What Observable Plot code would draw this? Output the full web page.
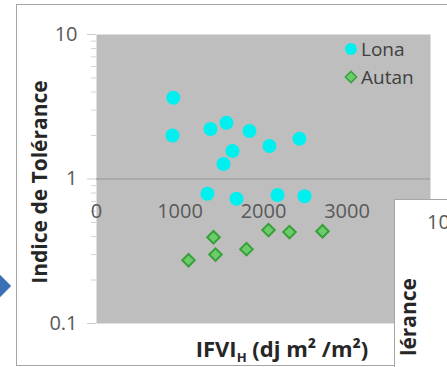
<!DOCTYPE html>
<html><head><meta charset="utf-8">
<script src="https://cdn.jsdelivr.net/npm/d3@7"></script>
<script src="https://cdn.jsdelivr.net/npm/@observablehq/plot@0.6"></script>
<style>
body{margin:0;background:#fff;width:447px;height:367px;overflow:hidden;position:relative;font-family:"Open Sans",sans-serif;}
#frame{position:absolute;left:16px;top:4px;width:470px;height:360px;border:1px solid #a6a6a6;}
#chart{position:absolute;left:0;top:0;}
#legend{position:absolute;left:344px;top:35px;font-size:19px;color:#404040;line-height:28px;}
#legend div{display:flex;align-items:center;}
#legend svg{margin-right:3px;}
#inset{position:absolute;left:394px;top:199px;width:80px;height:200px;background:#fff;border:1px solid #a6a6a6;}
#inset .t10{position:absolute;left:32px;top:8px;font-size:20px;color:#595959;}
#inset .yl{position:absolute;left:13px;top:117px;transform:translate(-50%,-50%) rotate(-90deg);font-size:21px;font-weight:bold;color:#262626;white-space:nowrap;}
#arrow{position:absolute;left:-13px;top:276px;width:20px;height:20px;background:#3b6fb6;transform:rotate(45deg);}
</style>
</head><body>
<div id="frame"></div>
<div id="chart"></div>
<div id="legend">
  <div><svg width="14" height="14"><circle cx="7" cy="7" r="6" fill="#00f0f0"/></svg>Lona</div>
  <div><svg width="14" height="14"><rect x="3" y="3" width="8" height="8" transform="rotate(45 7 7)" fill="#6ccc6c" stroke="#3aa03a" stroke-width="1.5"/></svg>Autan</div>
</div>
<div id="inset"><span class="t10">10</span><span class="yl">lérance</span></div>
<div id="arrow"></div>
<script>
const lonaX = [920, 910, 1365, 1557, 1832, 1629, 1521, 2072, 2431, 1329, 1677, 2168, 2491];
const lonaY = [3.65, 2.0, 2.22, 2.45, 2.15, 1.56, 1.27, 1.69, 1.90, 0.79, 0.73, 0.775, 0.76];
const autanX = [1102, 1401, 1425, 1796, 2060, 2311, 2707];
const autanY = [0.274, 0.395, 0.30, 0.327, 0.443, 0.429, 0.435];
const xTicks = [0, 1000, 2000, 3000];
const yTicks = [0.1, 1, 10];
const yTickLabels = ["0.1", "1", "10"];
const yMinor = [0.2,0.3,0.4,0.5,0.6,0.7,0.8,0.9,2,3,4,5,6,7,8,9];
const yLabel = "Indice de Tolérance";

const lona = lonaX.map((x, i) => ({x, y: lonaY[i]}));
const autan = autanX.map((x, i) => ({x, y: autanY[i]}));

const chart = Plot.plot({
  width: 447, height: 367,
  marginLeft: 96, marginRight: 17, marginTop: 34, marginBottom: 44,
  x: {domain: [0, 4000], axis: null},
  y: {type: "log", domain: [0.1, 10], axis: null},
  style: {background: "transparent", fontFamily: "'Open Sans', sans-serif", overflow: "visible"},
  marks: [
    Plot.frame({fill: "#bebebe", stroke: null}),
    Plot.axisY({ticks: yMinor, tickSize: 5, tickFormat: () => "", stroke: "#d4d4d4", label: null}),
    Plot.axisY({ticks: yTicks, tickSize: 9, tickFormat: () => "", stroke: "#cccccc", label: null}),
    Plot.text(yTicks, {y: d => d, frameAnchor: "left", dx: -19, textAnchor: "end", text: (d, i) => yTickLabels[i], fontSize: 20, fill: "#595959"}),
    Plot.ruleY([1], {stroke: "#a3a3a3", strokeWidth: 1.5}),
    Plot.text(xTicks, {x: d => d, y: () => 1, dy: 33, text: d => String(d), fontSize: 20, fill: "#595959"}),
    Plot.dot(lona, {x: "x", y: "y", r: 7, fill: "#00f0f0", symbol: "circle"}),
    Plot.dot(autan, {x: "x", y: "y", symbol: "square", rotate: 45, r: 5, fill: "#6ccc6c", stroke: "#38a038", strokeWidth: 2}),
    Plot.text([yLabel], {frameAnchor: "left", dx: -56, dy: 3, rotate: -90, textAnchor: "middle", text: d => d, fontSize: 21, fontWeight: "bold", fill: "#262626"})
  ]
});
document.getElementById("chart").appendChild(chart);

// x axis label with subscript
const svg = d3.select(chart);
const t = svg.append("text")
  .attr("x", 282).attr("y", 357)
  .attr("text-anchor", "middle")
  .attr("font-size", 22).attr("font-weight", "bold")
  .attr("fill", "#262626")
  .attr("font-family", "'Open Sans', sans-serif");
t.append("tspan").text("IFVI");
t.append("tspan").attr("font-size", 13).attr("dy", 5).text("H");
t.append("tspan").attr("dy", -5).text(" (dj m² /m²)");
</script>
</body></html>
